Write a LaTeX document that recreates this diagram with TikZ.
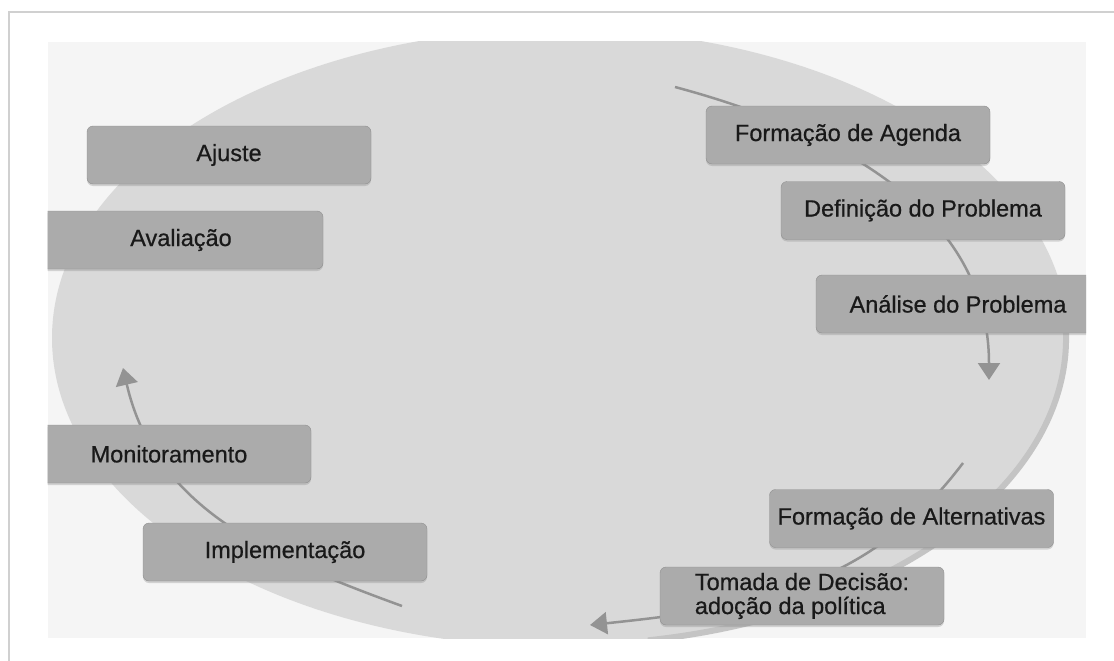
\documentclass[tikz,border=0pt]{standalone}
\usepackage{fontspec}
\setmainfont[FakeBold=0.6]{Liberation Sans}
\usetikzlibrary{positioning,shapes,arrows.meta,shadows}
\definecolor{panel}{HTML}{F5F5F5}
\definecolor{disc}{HTML}{D9D9D9}
\definecolor{ring}{HTML}{C4C4C4}
\definecolor{boxfill}{HTML}{ABABAB}
\definecolor{boxline}{HTML}{909090}
\definecolor{flow}{HTML}{939393}
\definecolor{frame}{HTML}{D0D0D0}
\tikzstyle{block} = [draw=boxline, fill=boxfill, rectangle, rounded corners=6pt, minimum height=58pt, minimum width=284pt, font=\fontsize{23.5}{24}\selectfont, text=black!90, drop shadow={shadow xshift=0pt, shadow yshift=-2pt, opacity=0.3}]
\tikzstyle{flowline} = [draw=flow, line width=2.5pt]

\begin{document}
\begin{tikzpicture}[x=1pt, y=-1pt, >={Triangle[width=22pt,length=17pt]}]
		\useasboundingbox (0,0) rectangle (1114,661);
		% frame and panel
		\draw [frame, line width=2.5pt] (9,661) -- (9,12) -- (1114,12);
		\fill [panel] (47.5,42) rectangle (1086,638);
		\begin{scope}
			\clip (47.5,42) rectangle (1086,638);
			\fill [disc] (560,338) ellipse [x radius=508pt, y radius=309pt];
			\draw [ring, line width=6pt] (560,338) ++(8:506pt and 307pt) arc [start angle=8, end angle=-80, x radius=506pt, y radius=307pt];
		\end{scope}
		
		% cycle arcs, behind the boxes
		\coordinate (s1) at (675,87);
		\coordinate (e1) at (989,380);
		\coordinate (s2) at (963,463);
		\coordinate (e2) at (590,625);
		\coordinate (s3) at (402,606);
		\coordinate (e3) at (123,368);
		
		\draw [flowline, ->] (s1) to[out=-15, in=90] (e1);
		\draw [flowline, ->] (s2) to[out=-127, in=6] (e2);
		\draw [flowline, ->] (s3) to[out=160, in=-77] (e3);
		
		\begin{scope}
			\clip (47.5,42) rectangle (1086,638);
			\node (ag) [block] at (848,135) {Formação de Agenda};
			\node (def) [block] at (923,210.5) {Definição do Problema};
			\node (an) [block] at (958,304) {Análise do Problema};
			\node (alt) [block] at (911.5,518.5) {Formação de Alternativas};
			\node (tom) [block, align=left] at (802,596) {Tomada de Decisão:\\adoção da política};
			\node (imp) [block] at (285,552) {Implementação};
			\node (mon) [block] at (169,454) {Monitoramento};
			\node (av) [block] at (181,240) {Avaliação};
			\node (aj) [block] at (229,155) {Ajuste};
		\end{scope}
	\end{tikzpicture}
\end{document}
